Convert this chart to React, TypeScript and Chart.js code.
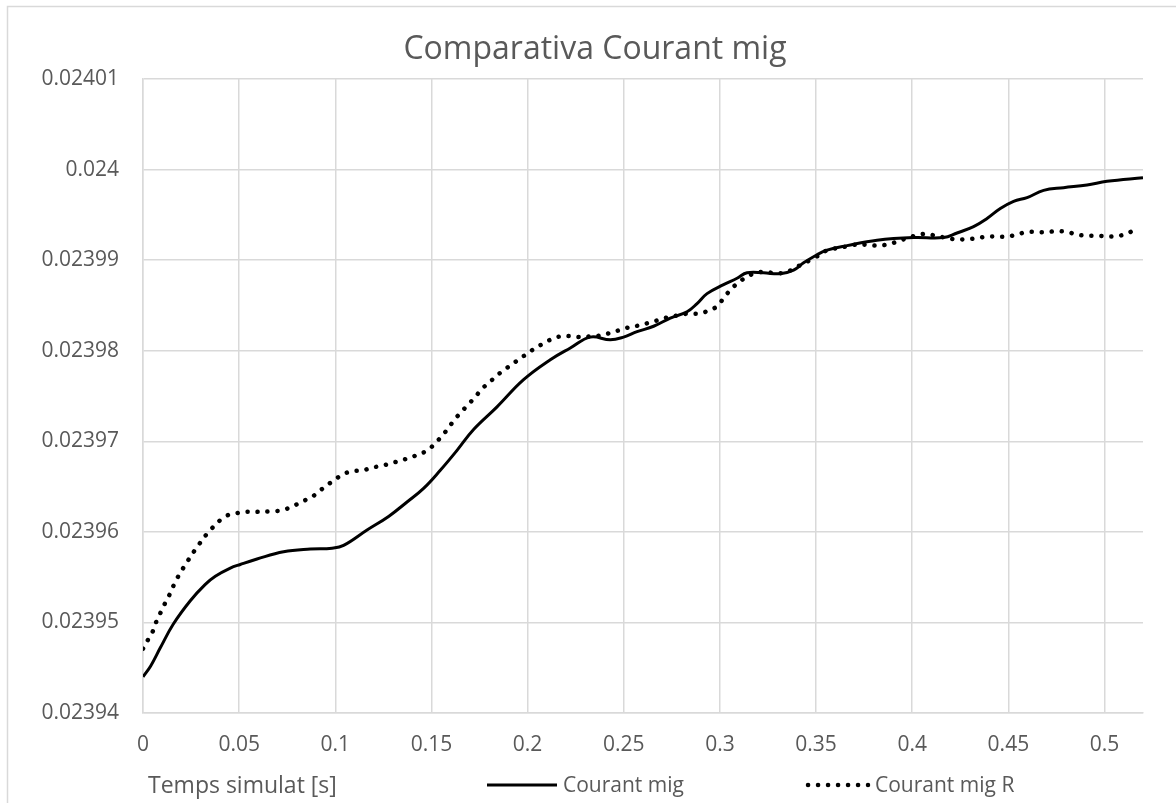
import React, { useEffect, useRef } from "react";
import { Chart, registerables } from "chart.js";

Chart.register(...registerables);

const TITLE = "Comparativa Courant mig";
const X_TITLE = "Temps simulat [s]";
const SERIES_NAMES = ["Courant mig", "Courant mig R"];

const xTicks = [0, 0.05, 0.1, 0.15, 0.2, 0.25, 0.3, 0.35, 0.4, 0.45, 0.5];
const yTicks = [0.02394, 0.02395, 0.02396, 0.02397, 0.02398, 0.02399, 0.024, 0.02401];

const tSolid = [
  0, 0.004, 0.009, 0.0157, 0.0246, 0.0324, 0.0376, 0.0454, 0.0506, 0.0593, 0.0731,
  0.087, 0.0983, 0.1043, 0.1165, 0.1277, 0.1373, 0.1459, 0.1546, 0.1633, 0.1719,
  0.1841, 0.1979, 0.2118, 0.2222, 0.2326, 0.243, 0.2499, 0.2569, 0.2655, 0.2742,
  0.2829, 0.2881, 0.2933, 0.3019, 0.3089, 0.3141, 0.3227, 0.3314, 0.3383, 0.3435,
  0.3505, 0.3557, 0.3661, 0.3817, 0.4007, 0.4163, 0.4233, 0.4319, 0.4389, 0.4458,
  0.4527, 0.4597, 0.4683, 0.4787, 0.4909, 0.5013, 0.52,
];
const vSolid = [
  0.023944, 0.0239452, 0.0239472, 0.0239498, 0.0239524, 0.0239542, 0.0239551, 0.023956, 0.0239564, 0.023957, 0.0239578,
  0.0239581, 0.0239582, 0.0239585, 0.0239602, 0.0239617, 0.0239633, 0.0239648, 0.0239668, 0.023969, 0.0239713,
  0.0239738, 0.0239768, 0.023979, 0.0239803, 0.0239815, 0.0239812, 0.0239815, 0.0239821, 0.0239827, 0.0239836,
  0.0239843, 0.0239852, 0.0239863, 0.0239873, 0.023988, 0.0239886, 0.0239886, 0.0239885, 0.0239889, 0.0239897,
  0.0239906, 0.0239911, 0.0239916, 0.0239922, 0.0239925, 0.0239925, 0.023993, 0.0239937, 0.0239946, 0.0239957,
  0.0239965, 0.0239969, 0.0239977, 0.023998, 0.0239983, 0.0239987, 0.0239991,
];

const tDotted = [
  0, 0.0029, 0.0055, 0.0073, 0.0099, 0.0121, 0.0146, 0.0168, 0.0224, 0.0284,
  0.035, 0.0428, 0.0476, 0.0528, 0.0584, 0.0693, 0.074, 0.0787, 0.0832, 0.0875,
  0.0917, 0.096, 0.1, 0.1043, 0.1095, 0.1144, 0.1194, 0.1243, 0.1295, 0.1343,
  0.139, 0.1438, 0.148, 0.152, 0.1555, 0.1589, 0.162, 0.1658, 0.1693, 0.1728,
  0.1763, 0.1801, 0.1837, 0.1879, 0.1919, 0.1958, 0.2, 0.204, 0.2083, 0.2127,
  0.2175, 0.2227, 0.2279, 0.2331, 0.2383, 0.2434, 0.2482, 0.253, 0.2582, 0.2633,
  0.2683, 0.273, 0.2782, 0.2834, 0.2889, 0.2938, 0.2985, 0.3019, 0.3054, 0.3089,
  0.3128, 0.3175, 0.3227, 0.3276, 0.3331, 0.338, 0.3422, 0.3496, 0.3548, 0.36,
  0.3656, 0.3704, 0.376, 0.3812, 0.3864, 0.3916, 0.3968, 0.4016, 0.4068, 0.412,
  0.4168, 0.4221, 0.4276, 0.4332, 0.4384, 0.4437, 0.4489, 0.4541, 0.4593, 0.4649,
  0.4701, 0.4753, 0.4808, 0.486, 0.4914, 0.4969, 0.5025, 0.5079, 0.5125, 0.5169,
];
const vDotted = [
  0.0239471, 0.0239482, 0.0239492, 0.0239503, 0.0239514, 0.0239524, 0.0239534, 0.0239545, 0.0239565, 0.0239584,
  0.0239602, 0.0239617, 0.023962, 0.0239622, 0.0239622, 0.0239623, 0.0239625, 0.0239629, 0.0239634, 0.0239638,
  0.0239645, 0.0239652, 0.0239658, 0.0239664, 0.0239667, 0.0239668, 0.0239671, 0.0239673, 0.0239676, 0.0239679,
  0.0239682, 0.0239686, 0.023969, 0.0239698, 0.0239706, 0.0239715, 0.0239724, 0.0239733, 0.0239741, 0.0239749,
  0.0239758, 0.0239765, 0.0239772, 0.0239779, 0.0239785, 0.0239791, 0.0239797, 0.0239803, 0.0239808, 0.0239813,
  0.0239816, 0.0239816, 0.0239815, 0.0239816, 0.0239817, 0.023982, 0.0239823, 0.0239826, 0.0239828, 0.0239831,
  0.0239834, 0.0239837, 0.0239839, 0.0239841, 0.0239841, 0.0239844, 0.0239849, 0.0239858, 0.0239867, 0.0239874,
  0.023988, 0.0239885, 0.0239887, 0.0239886, 0.0239886, 0.023989, 0.0239895, 0.0239903, 0.023991, 0.0239913,
  0.0239915, 0.0239917, 0.0239917, 0.0239916, 0.0239917, 0.023992, 0.0239924, 0.0239927, 0.0239929, 0.0239927,
  0.0239925, 0.0239923, 0.0239923, 0.0239924, 0.0239926, 0.0239926, 0.0239926, 0.0239928, 0.0239931, 0.0239931,
  0.0239931, 0.0239932, 0.0239931, 0.0239928, 0.0239927, 0.0239927, 0.0239926, 0.0239927, 0.023993, 0.0239936,
];

const FONT = "'Open Sans', 'DejaVu Sans', sans-serif";
const TEXT = "#595959";
const GRID = "#d9d9d9";

const framePlugin = {
  id: "frame",
  beforeDraw(chart: any) {
    const ctx = chart.ctx;
    ctx.save();
    ctx.fillStyle = "#ffffff";
    ctx.fillRect(0, 0, chart.width, chart.height);
    ctx.strokeStyle = GRID;
    ctx.lineWidth = 1.5;
    ctx.strokeRect(7.5, 6.5, chart.width + 40, chart.height + 40);
    ctx.restore();
  },
};

const legendRowPlugin = {
  id: "legendRow",
  afterDraw(chart: any) {
    const ctx = chart.ctx;
    const y = 786;
    ctx.save();
    ctx.fillStyle = TEXT;
    ctx.textBaseline = "middle";
    ctx.textAlign = "left";
    ctx.font = `23px ${FONT}`;
    ctx.fillText(X_TITLE, 148, y);
    ctx.font = `21px ${FONT}`;
    const items = [
      { x0: 487, x1: 557, tx: 563 },
      { x0: 808, x1: 868, tx: 875 },
    ];
    chart.data.datasets.forEach((ds: any, i: number) => {
      const it = items[i];
      ctx.beginPath();
      ctx.strokeStyle = ds.borderColor;
      ctx.lineWidth = ds.borderWidth;
      ctx.lineCap = ds.borderCapStyle || "butt";
      ctx.setLineDash(ds.borderDash || []);
      ctx.moveTo(it.x0, y - 1);
      ctx.lineTo(it.x1, y - 1);
      ctx.stroke();
      ctx.setLineDash([]);
      ctx.fillText(ds.label, it.tx, y);
    });
    ctx.restore();
  },
};

export default function App() {
  const ref = useRef<HTMLCanvasElement | null>(null);

  useEffect(() => {
    if (!ref.current) return;
    const chart = new Chart(ref.current, {
      type: "line",
      data: {
        datasets: [
          {
            label: SERIES_NAMES[0],
            data: tSolid.map((t, i) => ({ x: t, y: vSolid[i] })),
            xAxisID: "x",
            yAxisID: "y",
            borderColor: "#000000",
            backgroundColor: "#000000",
            borderWidth: 3,
            borderCapStyle: "butt",
            pointRadius: 0,
            tension: 0.4,
            fill: false,
          },
          {
            label: SERIES_NAMES[1],
            data: tDotted.map((t, i) => ({ x: t, y: vDotted[i] })),
            xAxisID: "x",
            yAxisID: "y",
            borderColor: "#000000",
            backgroundColor: "#000000",
            borderWidth: 4.5,
            borderDash: [0.1, 9.9],
            borderCapStyle: "round",
            pointRadius: 0,
            tension: 0.4,
            fill: false,
          },
        ],
      },
      options: {
        animation: false,
        responsive: true,
        maintainAspectRatio: false,
        layout: { padding: { left: 14, right: 0, top: 0, bottom: 40 } },
        plugins: {
          legend: { display: false },
          tooltip: { enabled: false },
          title: {
            display: true,
            text: TITLE,
            color: TEXT,
            font: { family: FONT, size: 32, weight: "normal" },
            padding: { top: 31, bottom: 9.6 },
          },
        },
        scales: {
          x: {
            type: "linear",
            position: "bottom",
            min: 0,
            max: 0.52,
            afterBuildTicks: (s: any) => {
              s.ticks = xTicks.map((v) => ({ value: v }));
            },
            afterFit: (s: any) => {
              s.height = 50;
            },
            grid: { color: GRID, lineWidth: 1.5, drawTicks: false },
            border: { color: GRID, width: 1.5 },
            ticks: {
              color: TEXT,
              font: { family: FONT, size: 21 },
              padding: 19,
              maxRotation: 0,
              autoSkip: false,
              callback: (v: any) => String(Number(Number(v).toFixed(2))),
            },
          },
          y: {
            type: "linear",
            position: "left",
            min: 0.02394,
            max: 0.02401,
            afterBuildTicks: (s: any) => {
              s.ticks = yTicks.map((v) => ({ value: v }));
            },
            afterFit: (s: any) => {
              s.width = 129;
            },
            grid: { color: GRID, lineWidth: 1.5, drawTicks: false },
            border: { color: GRID, width: 1.5 },
            ticks: {
              color: TEXT,
              font: { family: FONT, size: 21 },
              padding: 24,
              autoSkip: false,
              callback: (v: any) => String(Number(Number(v).toFixed(5))),
            },
          },
          yRight: {
            type: "linear",
            position: "right",
            min: 0,
            max: 1,
            display: true,
            grid: { drawOnChartArea: false, drawTicks: false, display: false },
            border: { display: false },
            ticks: { display: false },
            afterFit: (s: any) => {
              s.width = 33;
            },
          },
        },
      },
      plugins: [framePlugin, legendRowPlugin],
    } as any);
    return () => chart.destroy();
  }, []);

  return (
    <div style={{ position: "fixed", left: 0, top: 0, width: 1176, height: 803, background: "#fff" }}>
      <canvas ref={ref} />
    </div>
  );
}
